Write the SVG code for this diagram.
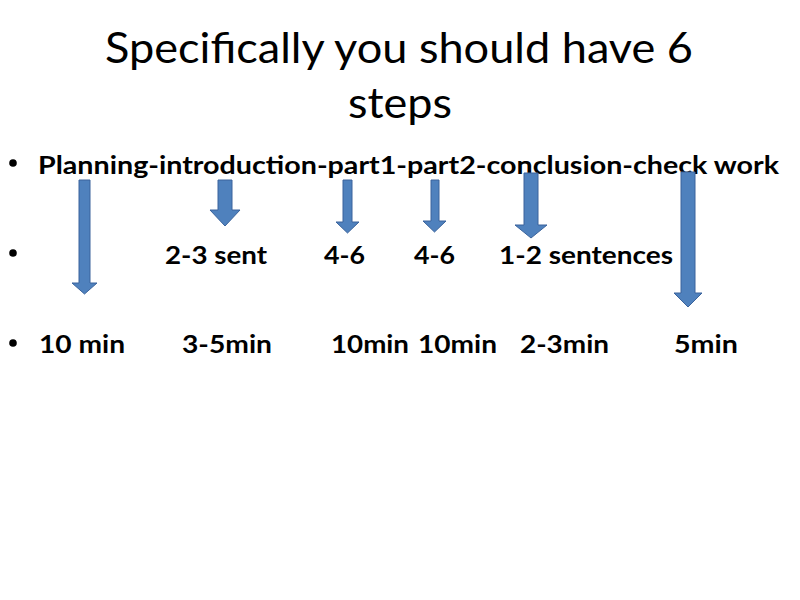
<svg xmlns="http://www.w3.org/2000/svg" width="800" height="600" viewBox="0 0 800 600">
<style>
.title{font-family:Lato,"Open Sans","Liberation Sans",sans-serif;font-size:43px;fill:#000;}
.b{font-family:Lato,"Open Sans","Liberation Sans",sans-serif;font-size:25px;font-weight:bold;fill:#000;}
.arr{fill:#4F81BD;stroke:#3A639C;stroke-width:1;}
.dot{fill:#000;}
</style>
<rect width="800" height="600" fill="#fff"/>
<g id="title">
<text class="title" x="105" y="63" textLength="588" lengthAdjust="spacingAndGlyphs">Specifically you should have 6</text>
<text class="title" x="348" y="118" textLength="104" lengthAdjust="spacingAndGlyphs">steps</text>
</g>
<g id="bullets">
<circle class="dot" cx="13" cy="163" r="3.8"/>
<circle class="dot" cx="13" cy="253" r="3.8"/>
<circle class="dot" cx="13" cy="343" r="3.8"/>
</g>
<g id="steps">
<text class="b" x="38" y="174" textLength="741" lengthAdjust="spacingAndGlyphs">Planning-introduction-part1-part2-conclusion-check work</text>
</g>
<g id="counts">
<text class="b" x="165" y="264" textLength="102" lengthAdjust="spacingAndGlyphs">2-3 sent</text>
<text class="b" x="324" y="264" textLength="41" lengthAdjust="spacingAndGlyphs">4-6</text>
<text class="b" x="414" y="264" textLength="41" lengthAdjust="spacingAndGlyphs">4-6</text>
<text class="b" x="499" y="264" textLength="174" lengthAdjust="spacingAndGlyphs">1-2 sentences</text>
</g>
<g id="times">
<text class="b" x="39" y="353" textLength="86" lengthAdjust="spacingAndGlyphs">10 min</text>
<text class="b" x="182" y="353" textLength="90" lengthAdjust="spacingAndGlyphs">3-5min</text>
<text class="b" x="331" y="353" textLength="78" lengthAdjust="spacingAndGlyphs">10min</text>
<text class="b" x="418" y="353" textLength="79" lengthAdjust="spacingAndGlyphs">10min</text>
<text class="b" x="520" y="353" textLength="89" lengthAdjust="spacingAndGlyphs">2-3min</text>
<text class="b" x="674" y="353" textLength="64" lengthAdjust="spacingAndGlyphs">5min</text>
</g>
<g id="connectors">
<polygon class="arr" points="79,180 90,180 90,283 97,283 84.5,294 72,283 79,283"/>
<polygon class="arr" points="218,180 232,180 232,210 240,210 225,226 210,210 218,210"/>
<polygon class="arr" points="343,180 352,180 352,222 359,222 347.5,233 336,222 343,222"/>
<polygon class="arr" points="431,180 439,180 439,221 446,221 434.5,232 423,221 431,221"/>
<polygon class="arr" points="524,173 538,173 538,225 547,225 531,238 515,225 524,225"/>
<polygon class="arr" points="681,172 695,172 695,293 702,293 688,307 674,293 681,293"/>
</g>
</svg>
